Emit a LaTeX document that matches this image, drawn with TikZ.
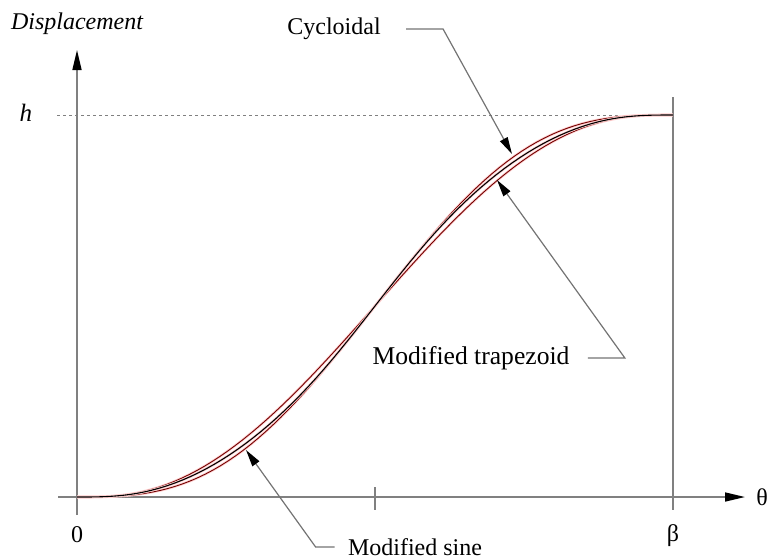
\documentclass[tikz,border=0pt]{standalone}
\usepackage{fontspec}
\setmainfont{Liberation Serif}
\usetikzlibrary{arrows.meta}

\begin{document}
\begin{tikzpicture}[x=0.5pt, y=-0.5pt,
    axis/.style={draw=black!50, line width=0.8pt},
    axarr/.style={axis, -{Triangle[length=10pt, width=4.5pt, color=black]}},
    lead/.style={draw=black!55, line width=0.6pt,
                 -{Triangle[length=8.5pt, width=4.2pt, color=black]}},
    lbl/.style={inner sep=0pt, font=\fontsize{12}{14}\selectfont},
    redcurve/.style={draw=black!55!red, line width=0.45pt,
                     preaction={draw=red!18, line width=1.3pt}},
    blkcurve/.style={draw=black, line width=0.55pt,
                     preaction={draw=red!18, line width=1.3pt}}
  ]
  \useasboundingbox (0,0) rectangle (769,558);

  %% --- axes ---
  \coordinate (O)    at (77,497);
  \coordinate (xbeg) at (58,497);
  \coordinate (xend) at (745,497);
  \coordinate (ybeg) at (77,515);
  \coordinate (yend) at (77,50);
  \draw[axarr] (xbeg) -- (xend);
  \draw[axarr] (ybeg) -- (yend);
  % end of rise and half way
  \coordinate (btop) at (673,97);
  \coordinate (bbot) at (673,510);
  \draw[axis] (btop) -- (bbot);
  \coordinate (mtop) at (375,487);
  \coordinate (mbot) at (375,510);
  \draw[axis] (mtop) -- (mbot);
  % level h
  \coordinate (hbeg) at (57,115);
  \coordinate (hend) at (620,115);
  \draw[draw=black!50, line width=0.5pt, dash pattern=on 1.5pt off 1.5pt] (hbeg) -- (hend);

  %% --- axis labels ---
  \node[lbl, font=\fontsize{12}{14}\selectfont\itshape] (disp) at (77,24) {Displacement};
  \node[lbl, font=\fontsize{12.5}{14}\selectfont\itshape] (hlev) at (26,113) {h};
  \node[lbl] (zero)  at (77,535) {0};
  \node[lbl] (beta)  at (673,536) {β};
  \node[lbl] (theta) at (762,497) {θ};

  %% --- motion curves (theta/beta -> s/h) ---
  \begin{scope}[shift={(77,497)}, x=298pt, y=191pt]
    % cycloidal
    \draw[redcurve] plot[domain=0:1, samples=80]
      (\x, {\x - sin(360*\x)/(2*pi)});
    % modified sine
    \draw[redcurve]
      plot[domain=0:0.125, samples=15] (\x, {pi/(4+pi)*(\x - sin(720*\x)/(4*pi))})
      -- plot[domain=0.125:0.875, samples=60] (\x, {(2 + pi*\x - 2.25*sin(60+240*\x))/(4+pi)})
      -- plot[domain=0.875:1, samples=15] (\x, {(4 + pi*\x - 0.25*sin(720*\x))/(4+pi)});
    % modified trapezoid
    \draw[blkcurve]
      plot[domain=0:0.125, samples=15] (\x, {0.38898448*\x - 0.0309544*sin(720*\x)})
      -- plot[domain=0.125:0.375, samples=20] (\x, {2.44406184*\x*\x - 0.22203097*\x + 0.00723407})
      -- plot[domain=0.375:0.625, samples=20] (\x, {1.6110154*\x - 0.0309544*sin(720*\x - 180) - 0.3055077})
      -- plot[domain=0.625:0.875, samples=20] (\x, {-2.44406184*\x*\x + 4.6660917*\x - 1.2292648})
      -- plot[domain=0.875:1, samples=15] (\x, {0.6110154 + 0.38898448*\x + 0.0309544*sin(720*\x - 540)});
  \end{scope}

  %% --- callouts ---
  \node[lbl] (cyc)  at (334,29)  {Cycloidal};
  \node[lbl, font=\fontsize{12.8}{14}\selectfont] (trap) at (471,358) {Modified trapezoid};
  \node[lbl] (sine) at (415,547) {Modified sine};
  \coordinate (cyctip)  at (512,154);
  \coordinate (traptip) at (497,180);
  \coordinate (sinetip) at (246,450);
  \draw[lead] (cyc.east)  ++(25,0)  -- ++(37,0)  -- (cyctip);
  \draw[lead] (trap.east) ++(18,0)  -- ++(37,0)  -- (traptip);
  \draw[lead] (sine.west) ++(-13,0) -- ++(-19,0) -- (sinetip);
\end{tikzpicture}
\end{document}
